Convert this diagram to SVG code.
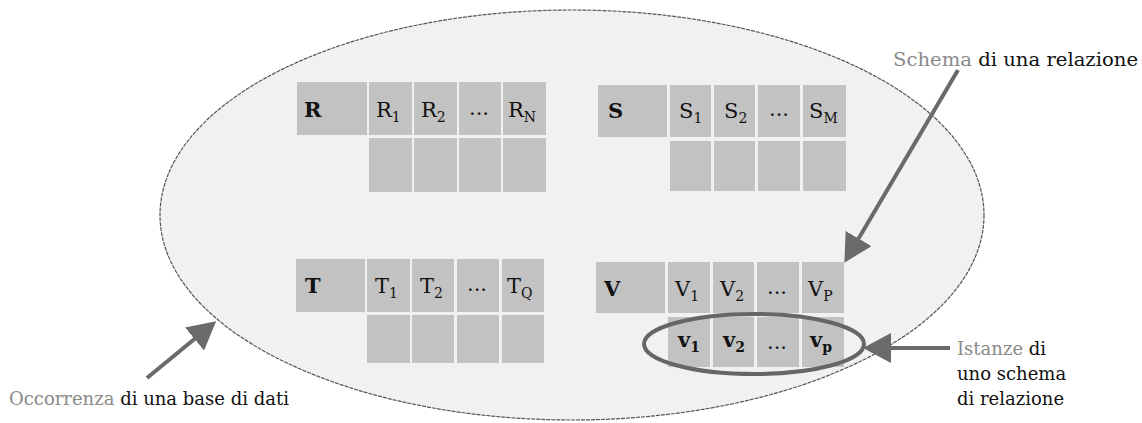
<svg xmlns="http://www.w3.org/2000/svg" width="1142" height="423" viewBox="0 0 1142 423">
  <style>
    .cell { fill: #c2c2c2; }
    .lbl { font-family: "DejaVu Serif", "Liberation Serif", serif; font-size: 21px; fill: #111; }
    .hdr { font-family: "DejaVu Serif", "Liberation Serif", serif; font-size: 21px; font-weight: bold; fill: #111; }
    .sub { font-size: 14px; }
    .cap { font-family: "DejaVu Serif", "Liberation Serif", serif; font-size: 18px; fill: #111; }
    .grey { fill: #8a8a8a; }
    .arrow { stroke: #6a6a6a; stroke-width: 4; fill: none; marker-end: url(#head); }
  </style>
  <defs>
    <marker id="head" viewBox="0 0 28 30" refX="11" refY="15" markerWidth="28" markerHeight="30" markerUnits="userSpaceOnUse" orient="auto">
      <path d="M0,0 L28,15 L0,30 Z" fill="#6a6a6a"/>
    </marker>
  </defs>
  <rect width="1142" height="423" fill="#ffffff"/>

  <g id="database">
    <ellipse cx="572" cy="215" rx="412" ry="205" fill="#f1f1f1" stroke="#555" stroke-width="1.2" stroke-dasharray="4 1"/>
  </g>

  <g id="table-R">
    <rect class="cell" x="297" y="82" width="70" height="53"/>
    <rect class="cell" x="369" y="82" width="43" height="53"/>
    <rect class="cell" x="414" y="82" width="43" height="53"/>
    <rect class="cell" x="459" y="82" width="42" height="53"/>
    <rect class="cell" x="503" y="82" width="43" height="53"/>
    <rect class="cell" x="369" y="138" width="43" height="54"/>
    <rect class="cell" x="414" y="138" width="43" height="54"/>
    <rect class="cell" x="459" y="138" width="42" height="54"/>
    <rect class="cell" x="503" y="138" width="43" height="54"/>
    <text class="hdr" x="304" y="117">R</text>
    <text class="lbl" x="376" y="117">R<tspan class="sub" dy="5">1</tspan></text>
    <text class="lbl" x="421" y="117">R<tspan class="sub" dy="5">2</tspan></text>
    <text class="lbl" x="469" y="115">...</text>
    <text class="lbl" x="508" y="117">R<tspan class="sub" dy="5">N</tspan></text>
  </g>

  <g id="table-S">
    <rect class="cell" x="598" y="85" width="69" height="52"/>
    <rect class="cell" x="670" y="85" width="41" height="52"/>
    <rect class="cell" x="714" y="85" width="41" height="52"/>
    <rect class="cell" x="758" y="85" width="42" height="52"/>
    <rect class="cell" x="803" y="85" width="43" height="52"/>
    <rect class="cell" x="670" y="141" width="41" height="50"/>
    <rect class="cell" x="714" y="141" width="41" height="50"/>
    <rect class="cell" x="758" y="141" width="42" height="50"/>
    <rect class="cell" x="803" y="141" width="43" height="50"/>
    <text class="hdr" x="608" y="118">S</text>
    <text class="lbl" x="679" y="118">S<tspan class="sub" dy="5">1</tspan></text>
    <text class="lbl" x="724" y="118">S<tspan class="sub" dy="5">2</tspan></text>
    <text class="lbl" x="769" y="116">...</text>
    <text class="lbl" x="809" y="118">S<tspan class="sub" dy="5">M</tspan></text>
  </g>

  <g id="table-T">
    <rect class="cell" x="296" y="259" width="69" height="53"/>
    <rect class="cell" x="367" y="259" width="43" height="53"/>
    <rect class="cell" x="412" y="259" width="42" height="53"/>
    <rect class="cell" x="457" y="259" width="42" height="53"/>
    <rect class="cell" x="502" y="259" width="42" height="53"/>
    <rect class="cell" x="367" y="315" width="43" height="48"/>
    <rect class="cell" x="412" y="315" width="42" height="48"/>
    <rect class="cell" x="457" y="315" width="42" height="48"/>
    <rect class="cell" x="502" y="315" width="42" height="48"/>
    <text class="hdr" x="305" y="293">T</text>
    <text class="lbl" x="375" y="293">T<tspan class="sub" dy="5">1</tspan></text>
    <text class="lbl" x="420" y="293">T<tspan class="sub" dy="5">2</tspan></text>
    <text class="lbl" x="467" y="291">...</text>
    <text class="lbl" x="507" y="293">T<tspan class="sub" dy="5">Q</tspan></text>
  </g>

  <g id="table-V">
    <rect class="cell" x="596" y="262" width="69" height="51"/>
    <rect class="cell" x="668" y="262" width="42" height="51"/>
    <rect class="cell" x="713" y="262" width="41" height="51"/>
    <rect class="cell" x="757" y="262" width="42" height="51"/>
    <rect class="cell" x="802" y="262" width="42" height="51"/>
    <rect class="cell" x="668" y="317" width="42" height="50"/>
    <rect class="cell" x="713" y="317" width="41" height="50"/>
    <rect class="cell" x="757" y="317" width="42" height="50"/>
    <rect class="cell" x="802" y="317" width="42" height="50"/>
    <text class="hdr" x="604" y="296">V</text>
    <text class="lbl" x="675" y="296">V<tspan class="sub" dy="5">1</tspan></text>
    <text class="lbl" x="720" y="296">V<tspan class="sub" dy="5">2</tspan></text>
    <text class="lbl" x="767" y="294">...</text>
    <text class="lbl" x="808" y="296">V<tspan class="sub" dy="5">P</tspan></text>
    <text class="hdr" x="678" y="347">v<tspan class="sub" dy="5">1</tspan></text>
    <text class="hdr" x="723" y="347">v<tspan class="sub" dy="5">2</tspan></text>
    <text class="lbl" x="767" y="349">...</text>
    <text class="hdr" x="810" y="347">v<tspan class="sub" dy="5">p</tspan></text>
  </g>

  <g id="instances">
    <ellipse cx="754" cy="344" rx="110" ry="30" fill="none" stroke="#666" stroke-width="4"/>
  </g>

  <g id="connectors">
    <line class="arrow" x1="958" y1="70" x2="853" y2="248"/>
    <line class="arrow" x1="147" y1="378" x2="203" y2="332"/>
    <line class="arrow" x1="950" y1="348" x2="880" y2="348"/>
  </g>

  <g id="label-schema">
    <text class="cap" x="893" y="66" textLength="245" lengthAdjust="spacingAndGlyphs"><tspan class="grey">Schema</tspan> di una relazione</text>
  </g>
  <g id="label-occorrenza">
    <text class="cap" x="9" y="405"><tspan class="grey">Occorrenza</tspan> di una base di dati</text>
  </g>
  <g id="label-istanze">
    <text class="cap" x="957" y="355"><tspan class="grey">Istanze</tspan> di</text>
    <text class="cap" x="957" y="380">uno schema</text>
    <text class="cap" x="957" y="405">di relazione</text>
  </g>
</svg>
